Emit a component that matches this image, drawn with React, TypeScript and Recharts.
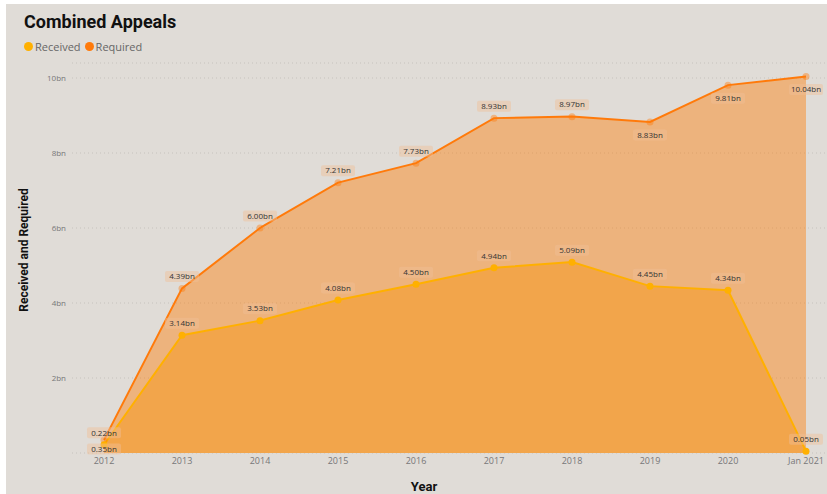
import React from 'react';
import {
  ComposedChart,
  Area,
  XAxis,
  YAxis,
  CartesianGrid,
  LabelList,
} from 'recharts';

const years = ['2012', '2013', '2014', '2015', '2016', '2017', '2018', '2019', '2020', 'Jan 2021'];
const received = [0.22, 3.14, 3.53, 4.08, 4.5, 4.94, 5.09, 4.45, 4.34, 0.05];
const required = [0.35, 4.39, 6.0, 7.21, 7.73, 8.93, 8.97, 8.83, 9.81, 10.04];
const yTicks = [2, 4, 6, 8, 10];
// indexes whose label sits under the point
const requiredBelow = [0, 7, 8, 9];

const data = years.map((year, i) => ({ year, received: received[i], required: required[i] }));

const FONT = "'Segoe UI', 'Open Sans', sans-serif";
const TITLE_FONT = "Roboto, 'Open Sans', sans-serif";
const BG = '#e0dcd7';
const REQ = '#ff7a0a';
const REC = '#ffb000';

const fmt = (v: number) => `${v.toFixed(2)}bn`;

function makeLabel(below: number[]) {
  return (props: any) => {
    const { x, y, value, index } = props;
    if (x == null || y == null) return null;
    const w = 34;
    const h = 11;
    // the first point sits on the axis, so its lower label stays tight
    const down = index === 0 ? 9 : 13;
    const cy = below.includes(index) ? y + down : y - 12;
    return (
      <g>
        <rect x={x - w / 2} y={cy - h / 2} width={w} height={h} rx={2} fill="#f0be96" fillOpacity={0.45} />
        <text x={x} y={cy} dy="0.35em" textAnchor="middle" fontSize={8} fill="#333" fontFamily={FONT}>
          {fmt(Number(value))}
        </text>
      </g>
    );
  };
}

export default function App() {
  return (
    <div style={{ position: 'fixed', left: 6, top: 4, width: 821, height: 490, background: BG, fontFamily: FONT }}>
      <div style={{ position: 'absolute', left: 18, top: 7, fontSize: 18, fontWeight: 700, color: '#111', fontFamily: TITLE_FONT }}>
        Combined Appeals
      </div>
      <div style={{ position: 'absolute', left: 18, top: 35, fontSize: 11, color: '#666', display: 'flex', alignItems: 'center' }}>
        <span style={{ width: 9, height: 9, borderRadius: 5, background: REC, display: 'inline-block', marginRight: 2 }} />
        <span style={{ marginRight: 4 }}>Received</span>
        <span style={{ width: 9, height: 9, borderRadius: 5, background: REQ, display: 'inline-block', marginRight: 2 }} />
        <span>Required</span>
      </div>
      <div
        style={{
          position: 'absolute',
          left: 18,
          top: 246,
          transform: 'translate(-50%, -50%) rotate(-90deg)',
          fontSize: 12,
          fontWeight: 700,
          color: '#111',
          whiteSpace: 'nowrap',
          fontFamily: TITLE_FONT,
        }}
      >
        Received and Required
      </div>
      <div
        style={{
          position: 'absolute',
          left: 418,
          top: 482,
          transform: 'translate(-50%, -50%)',
          fontSize: 13,
          fontWeight: 700,
          color: '#111',
          fontFamily: TITLE_FONT,
        }}
      >
        Year
      </div>
      <ComposedChart width={821} height={490} data={data} margin={{ top: 59, right: 0, bottom: 0, left: 0 }}>
        <CartesianGrid horizontal vertical={false} stroke="#c6c2bd" strokeDasharray="1 3" />
        <XAxis
          dataKey="year"
          padding={{ left: 32, right: 21 }}
          axisLine={false}
          tickLine={false}
          tickSize={3}
          height={41}
          interval={0}
          tick={{ fontSize: 9, fill: '#777', fontFamily: FONT }}
        />
        <YAxis
          type="number"
          domain={[0, 10.4]}
          ticks={yTicks}
          width={66}
          axisLine={false}
          tickLine={false}
          tickSize={4}
          tickMargin={2}
          tickFormatter={(v: number) => `${v}bn`}
          tick={{ fontSize: 8, fill: '#777', fontFamily: FONT }}
        />
        <Area
          type="linear"
          dataKey="required"
          stroke={REQ}
          strokeWidth={2}
          fill="#ff7a00"
          fillOpacity={0.42}
          dot={{ r: 3.5, fill: REQ, stroke: REQ, strokeWidth: 0 }}
          activeDot={false}
          isAnimationActive={false}
        >
          <LabelList dataKey="required" content={makeLabel(requiredBelow)} />
        </Area>
        <Area
          type="linear"
          dataKey="received"
          stroke={REC}
          strokeWidth={2}
          fill="#f2a54b"
          fillOpacity={1}
          dot={{ r: 3.5, fill: REC, stroke: REC, strokeWidth: 0 }}
          activeDot={false}
          isAnimationActive={false}
        >
          <LabelList dataKey="received" content={makeLabel([])} />
        </Area>
      </ComposedChart>
    </div>
  );
}
